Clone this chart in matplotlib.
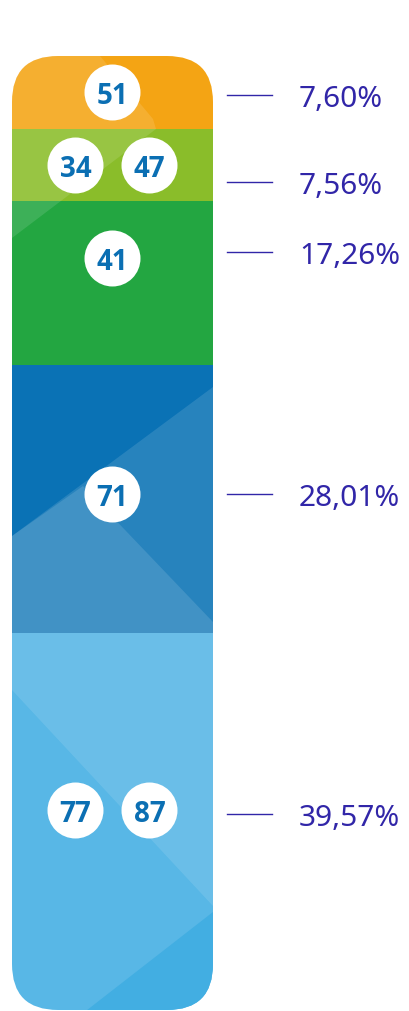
import matplotlib
matplotlib.use('Agg')
import matplotlib.pyplot as plt
from matplotlib.patches import FancyBboxPatch, Polygon
from matplotlib.transforms import Affine2D

# Participação de cada faixa (de cima para baixo)
percentuais = [7.60, 7.56, 17.26, 28.01, 39.57]
rotulos = ['7,60%', '7,56%', '17,26%', '28,01%', '39,57%']
numeros = [['51'], ['34', '47'], ['41'], ['71'], ['77', '87']]
cores = ['#f4a414', '#8abd2a', '#23a641', '#0a72b5', '#58b7e6']

# posição vertical (fração dentro da faixa) dos círculos e dos rótulos
pos_circulo = [0.50, 0.50, 0.65, 0.52, 0.53]
pos_rotulo = [0.46, 0.26, 0.69, 0.52, 0.52]

COR_TEXTO = '#3126a8'
COR_NUM = '#0b6fb3'
W, H = 410, 1012

fig = plt.figure(figsize=(W / 100, H / 100), dpi=100)
ax = fig.add_axes([0, 0, 1, 1])
px = 100 / 954  # unidades de % por pixel
ax.set_xlim(0, W)
ax.set_ylim(-1 * px, 1011 * px)
ax.axis('off')

x0, larg = 12, 201
xc = x0 + larg / 2
total = sum(percentuais)

# contorno arredondado usado para recortar tudo
contorno = FancyBboxPatch((x0, 0), larg, total,
                          boxstyle='round,pad=0,rounding_size=46',
                          mutation_aspect=px, fill=False, lw=0)
ax.add_patch(contorno)

# barras empilhadas, a primeira faixa fica no topo
base = total
for p, c in zip(percentuais, cores):
    base -= p
    barras = ax.bar(xc, p, width=larg, bottom=base, color=c, linewidth=0)
    for b in barras:
        b.set_clip_path(contorno)

# facetas decorativas em coordenadas de pixel (origem no topo)
tpx = Affine2D().scale(1, -1).translate(0, H)
facetas = [
    ([(12, 57), (100, 57), (143, 108), (153, 120), (156, 130), (12, 239)], 'white', 0.12),
    ([(12, 537), (213, 388), (213, 634), (12, 634)], 'white', 0.12),
    ([(12, 537), (83, 487), (213, 623), (213, 634), (12, 634)], 'white', 0.12),
    ([(12, 634), (213, 634), (213, 907), (12, 691)], 'white', 0.11),
    ([(213, 913), (213, 1015), (82, 1015)], '#42aee2', 1.0),
]
for pts, c, a in facetas:
    poly = Polygon(pts, closed=True, facecolor=c, alpha=a, lw=0, transform=tpx)
    ax.add_patch(poly)
    poly.set_clip_path(contorno)

# círculos com números e rótulos de percentual
topo = total
for p, nums, fc, fr, rot in zip(percentuais, numeros, pos_circulo, pos_rotulo, rotulos):
    yc = topo - p * (1 - fc)
    yr = topo - p * (1 - fr)
    xs = [xc] if len(nums) == 1 else [xc - 37, xc + 37]
    for x, n in zip(xs, nums):
        ax.scatter(x, yc, s=1625, color='white', linewidths=0, zorder=5)
        ax.text(x, yc, n, ha='center', va='center_baseline', fontsize=20,
                fontweight='bold', color=COR_NUM, family='Open Sans', zorder=6)
    ax.plot([227, 272], [yr, yr], color=COR_TEXTO, lw=1.0)
    ax.text(299, yr, rot, ha='left', va='center_baseline', fontsize=21.5,
            color=COR_TEXTO, family='Noto Sans')
    topo -= p

fig.savefig('out.png', dpi=100)
